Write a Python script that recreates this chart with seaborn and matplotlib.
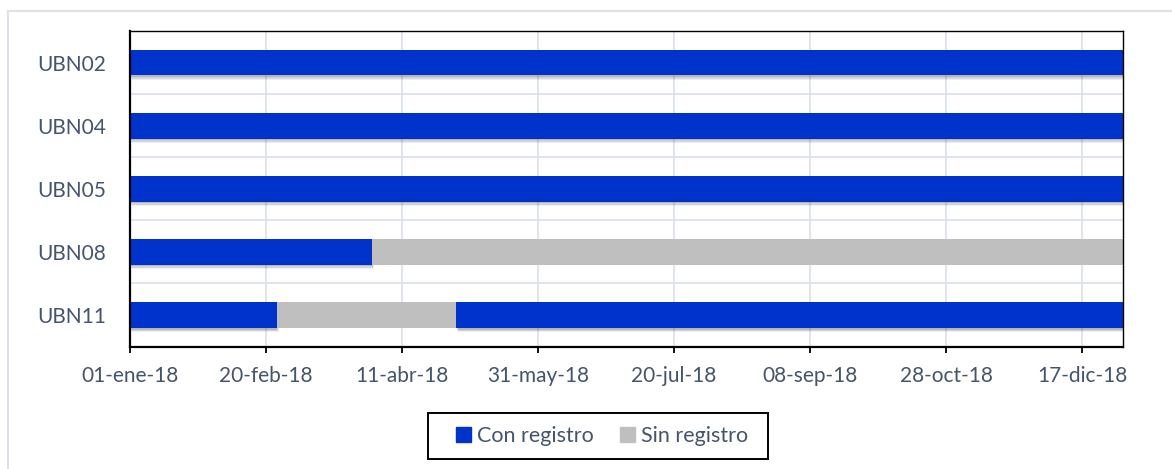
import pandas as pd
import numpy as np
import matplotlib
matplotlib.use('Agg')
import matplotlib.pyplot as plt
import matplotlib.patheffects as pe
from matplotlib.patches import Patch, Rectangle
import seaborn as sns

estaciones = ['UBN02', 'UBN04', 'UBN05', 'UBN08', 'UBN11']

# tramos de registro por estacion
tramo_estacion = ['UBN02', 'UBN04', 'UBN05', 'UBN08', 'UBN08', 'UBN11', 'UBN11', 'UBN11']
tramo_estado = ['Con registro', 'Con registro', 'Con registro', 'Con registro', 'Sin registro',
                'Con registro', 'Sin registro', 'Con registro']
tramo_inicio = ['2018-01-01', '2018-01-01', '2018-01-01', '2018-01-01', '2018-03-31',
                '2018-01-01', '2018-02-24', '2018-05-01']
tramo_fin = ['2019-01-01', '2019-01-01', '2019-01-01', '2018-03-31', '2019-01-01',
             '2018-02-24', '2018-05-01', '2019-01-01']

tick_fechas = ['2018-01-01', '2018-02-20', '2018-04-11', '2018-05-31',
               '2018-07-20', '2018-09-08', '2018-10-28', '2018-12-17']
tick_labels = ['01-ene-18', '20-feb-18', '11-abr-18', '31-may-18',
               '20-jul-18', '08-sep-18', '28-oct-18', '17-dic-18']

colores = {'Con registro': '#0033CC', 'Sin registro': '#BFBFBF'}
texto = '#44546A'

origen = pd.Timestamp('2018-01-01')
df = pd.DataFrame({'estacion': tramo_estacion, 'estado': tramo_estado,
                   'inicio': pd.to_datetime(tramo_inicio), 'fin': pd.to_datetime(tramo_fin)})
df['dia_ini'] = (df['inicio'] - origen).dt.days
df['dia_fin'] = (df['fin'] - origen).dt.days

sns.set_style('white')
plt.rcParams['font.family'] = ['Lato', 'DejaVu Sans']

fig = plt.figure(figsize=(11.72, 4.69), dpi=100)
ax = fig.add_axes([130 / 1172, 1 - 346.5 / 469, (1123 - 130) / 1172, (346.5 - 31) / 469])

sombra = [pe.SimplePatchShadow(offset=(0.3, -1.2), shadow_rgbFace='#333333', alpha=0.18),
          pe.SimplePatchShadow(offset=(0.8, -2.2), shadow_rgbFace='#333333', alpha=0.14),
          pe.SimplePatchShadow(offset=(1.2, -3.2), shadow_rgbFace='#333333', alpha=0.08),
          pe.Normal()]

for _, row in df.iterrows():
    n0 = len(ax.patches)
    sns.barplot(x=[row['dia_fin']], y=[row['estacion']], order=estaciones, orient='h',
                color=colores[row['estado']], saturation=1, width=0.41, linewidth=0, ax=ax)
    for p in ax.patches[n0:]:
        # bar starts where the segment starts (gantt style)
        p.set_x(row['dia_ini'])
        p.set_width(row['dia_fin'] - row['dia_ini'])
        if row['estado'] == 'Con registro':
            p.set_path_effects(sombra)

xt = [(pd.Timestamp(t) - origen).days for t in tick_fechas]
ax.set_xlim(0, (pd.Timestamp('2019-01-01') - origen).days)
ax.set_ylim(4.5, -0.5)
ax.set_xticks(xt)
ax.set_xticklabels(tick_labels)
ax.set_yticks(range(len(estaciones)))
ax.set_yticklabels(estaciones)
ax.set_yticks(np.arange(-0.5, 5, 1), minor=True)
ax.set_xlabel('')
ax.set_ylabel('')

ax.grid(axis='x', which='major', color='#DDE2EA', lw=1.3)
ax.grid(axis='y', which='minor', color='#DDE2EA', lw=1.3)
ax.set_axisbelow(True)

ax.tick_params(axis='x', which='major', length=4, width=1.3, color='black', direction='out',
               pad=10, labelsize=15, labelcolor=texto, bottom=True)
ax.tick_params(axis='y', which='both', length=0, pad=17, labelsize=15, labelcolor=texto)
for s in ['left', 'bottom']:
    ax.spines[s].set_color('black')
    ax.spines[s].set_linewidth(1.6)
for s in ['top', 'right']:
    ax.spines[s].set_color('black')
    ax.spines[s].set_linewidth(1.0)

handles = [Patch(color=colores[k], label=k) for k in colores]
fig.legend(handles=handles, loc='center', bbox_to_anchor=(602 / 1172, 1 - 436 / 469), ncol=2,
           frameon=False, fontsize=15.5, handlelength=0.7, handleheight=0.7,
           handletextpad=0.3, columnspacing=1.2, labelcolor=texto)
# legend box
fig.patches.append(Rectangle((428 / 1172, 1 - 459 / 469), 340 / 1172, 46 / 469, transform=fig.transFigure,
                             fill=False, ec='black', lw=1.4))

fig.patches.append(Rectangle((8 / 1172, -0.1), 1.2, 1.1 - 11 / 469, transform=fig.transFigure,
                             fill=False, ec='#DDE2EA', lw=1.5))

fig.savefig('out.png', dpi=100)
